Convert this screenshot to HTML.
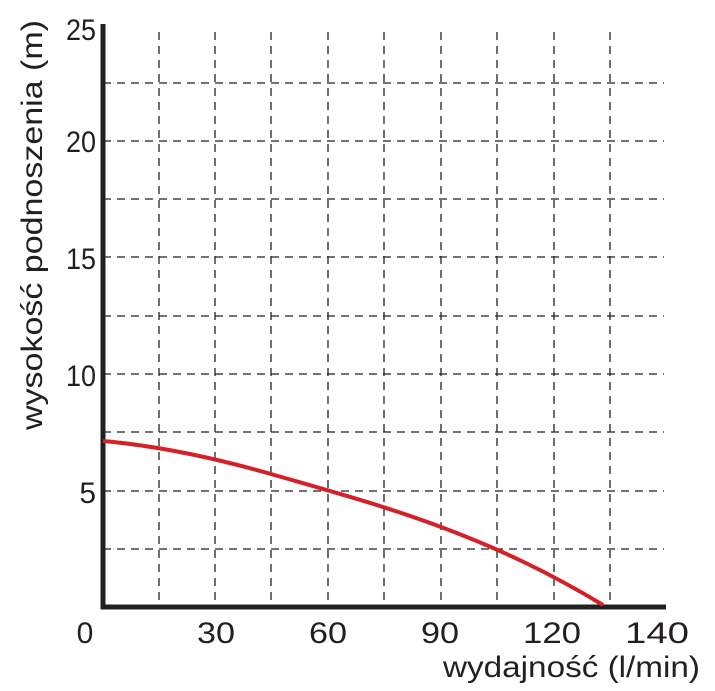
<!DOCTYPE html><html><head><style>body{margin:0;background:#fff}svg{display:block}text{font-family:"Liberation Sans",sans-serif;fill:#231f20}</style></head><body>
<svg width="715" height="691" viewBox="0 0 715 691">
<g stroke="#231f20" stroke-width="1.3" stroke-dasharray="8,6" fill="none">
<path d="M159 32V605M215 32V605M271 32V605M328 32V605M384 32V605M441 32V605M497 32V605M554 32V605M610 32V605"/>
<path d="M103 83H664M103 141H664M103 199H664M103 257H664M103 316H664M103 374H664M103 432H664M103 491H664M103 549H664"/>
</g>
<path d="M103 24V607H666" stroke="#231f20" stroke-width="5" fill="none"/>
<path d="M103 441 C160 446 215 458 271 474 C330 491 385 506 441 527 C500 549 550 573 603 605" stroke="#d42027" stroke-width="4" fill="none"/>
<g font-size="30" text-anchor="end">
<text x="96" y="40" textLength="30" lengthAdjust="spacingAndGlyphs">25</text><text x="96" y="152" textLength="30" lengthAdjust="spacingAndGlyphs">20</text><text x="96" y="269" textLength="30" lengthAdjust="spacingAndGlyphs">15</text><text x="96" y="386" textLength="30" lengthAdjust="spacingAndGlyphs">10</text><text x="96" y="503">5</text>
</g>
<g font-size="30" text-anchor="middle">
<text x="85" y="643">0</text><text x="216" y="643" textLength="38" lengthAdjust="spacingAndGlyphs">30</text><text x="328" y="643" textLength="38" lengthAdjust="spacingAndGlyphs">60</text><text x="440" y="643" textLength="38" lengthAdjust="spacingAndGlyphs">90</text><text x="552" y="643" textLength="58" lengthAdjust="spacingAndGlyphs">120</text><text x="657" y="643" textLength="64" lengthAdjust="spacingAndGlyphs">140</text>
</g>
<text x="443" y="677" font-size="30" textLength="257" lengthAdjust="spacingAndGlyphs">wydajność (l/min)</text>
<text transform="translate(42,430) rotate(-90)" font-size="30" textLength="410" lengthAdjust="spacingAndGlyphs">wysokość podnoszenia (m)</text>
</svg></body></html>
